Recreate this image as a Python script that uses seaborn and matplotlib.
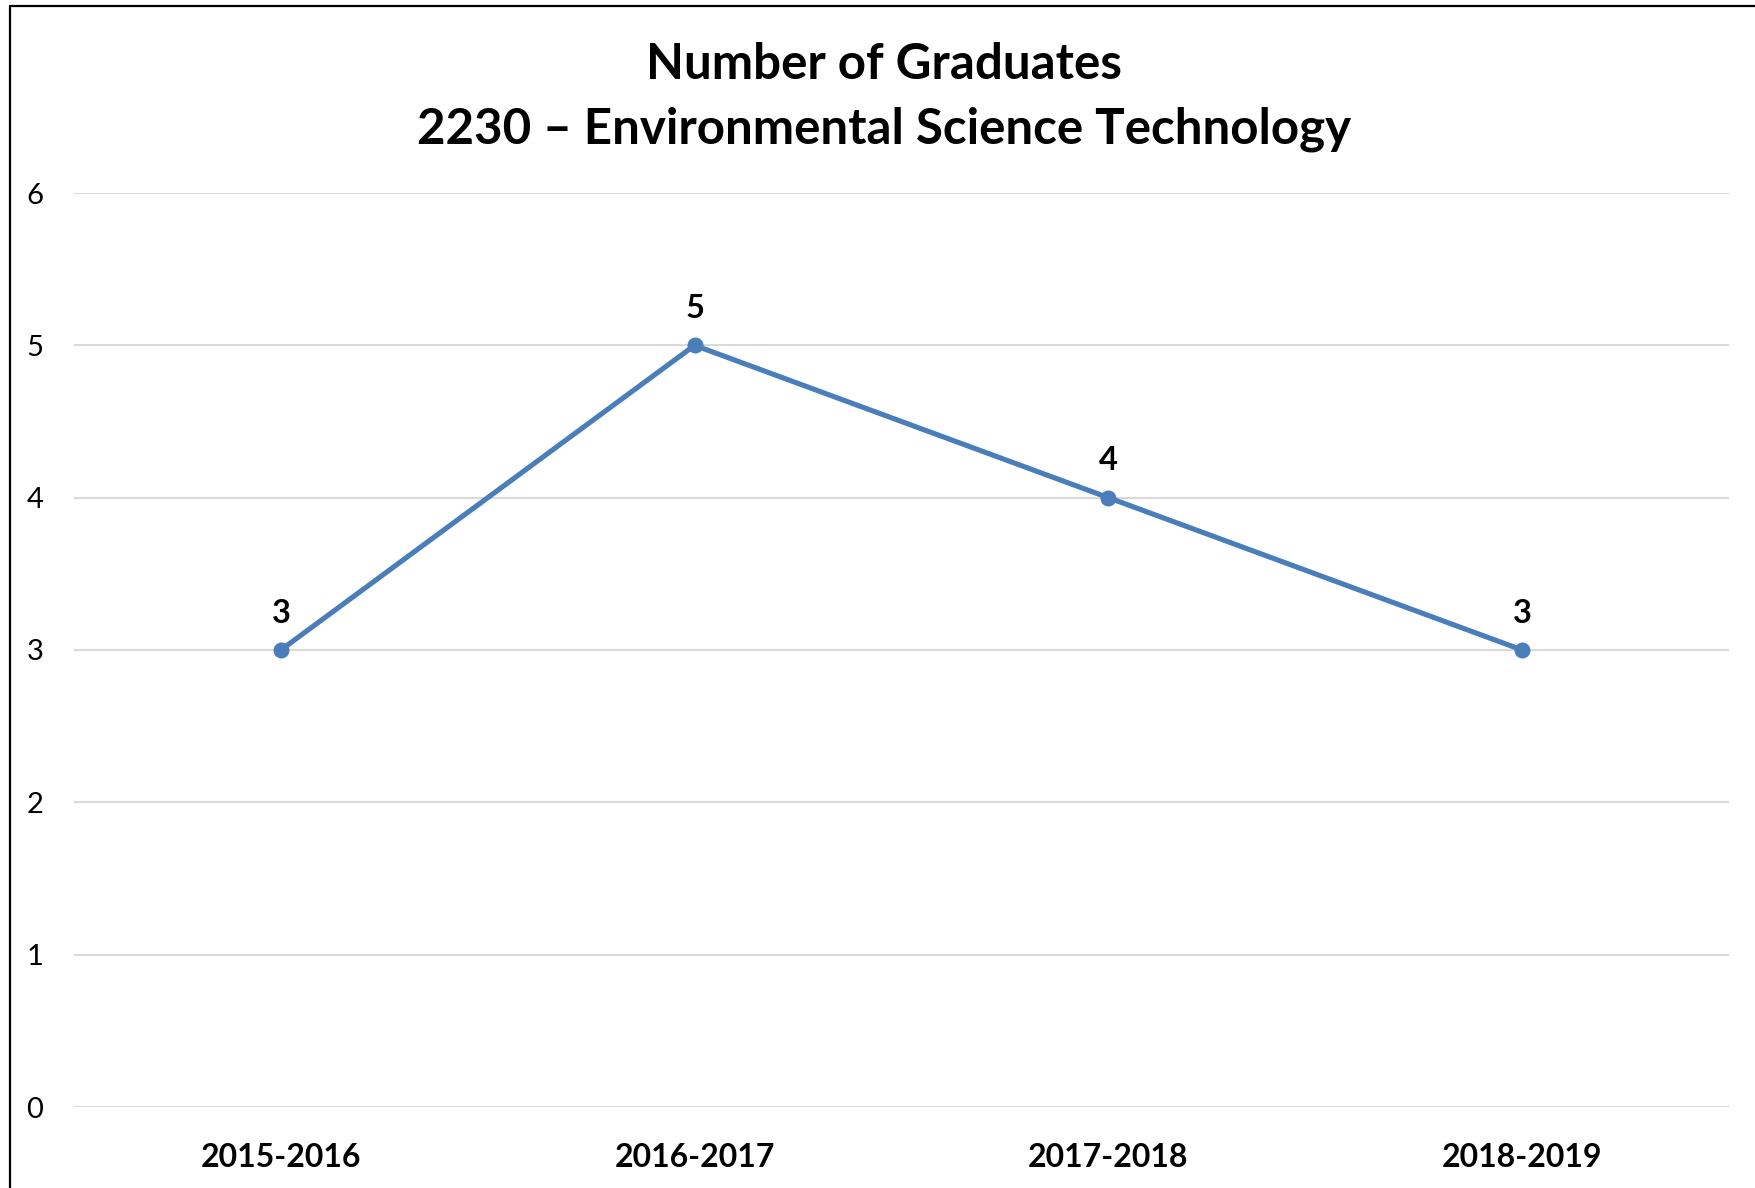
import matplotlib
matplotlib.use("Agg")
import matplotlib.pyplot as plt
import seaborn as sns
from matplotlib.lines import Line2D

years = ["2015-2016", "2016-2017", "2017-2018", "2018-2019"]
graduates = [3, 5, 4, 3]
title_lines = ["Number of Graduates", "2230 \u2013 Environmental Science Technology"]
y_ticks = [0, 1, 2, 3, 4, 5, 6]

sns.set_theme(style="white")
plt.rcParams["font.family"] = ["Lato", "DejaVu Sans"]

W, H, DPI = 1756, 1188, 100
fig = plt.figure(figsize=(W / DPI, H / DPI), dpi=DPI)
fig.patch.set_facecolor("white")
ax = fig.add_axes([74 / W, 1 - 1107 / H, 1655 / W, (1107 - 193) / H])

line_color = "#4A7EBB"
sns.lineplot(x=years, y=graduates, ax=ax, color=line_color, linewidth=3.7,
             marker="o", markersize=11.5, markeredgewidth=0, sort=False)

ax.set_xlim(-0.5, len(years) - 0.5)
ax.set_ylim(0, 6)
ax.set_yticks(y_ticks)
ax.set_yticklabels([str(t) for t in y_ticks])
ax.set_xlabel("")
ax.set_ylabel("")

ax.grid(axis="y", color="#D9D9D9", linewidth=1.5)
ax.grid(axis="x", visible=False)
ax.set_axisbelow(True)
for s in ax.spines.values():
    s.set_visible(False)

ax.tick_params(axis="y", length=0, pad=22, labelsize=21, labelcolor="black")
ax.tick_params(axis="x", length=0, pad=26, labelsize=23, labelcolor="black")
for lab in ax.get_xticklabels():
    lab.set_fontweight("bold")

for i, v in enumerate(graduates):
    ax.annotate(str(v), xy=(i, v), xytext=(0, 26.5), textcoords="offset points",
                ha="center", va="center", fontsize=23.5, fontweight="bold", color="black")

fig.text(884 / W, 1 - 64.5 / H, title_lines[0], ha="center", va="center",
         fontsize=35.5, fontweight="bold", color="black")
fig.text(884 / W, 1 - 129.5 / H, title_lines[1], ha="center", va="center",
         fontsize=35.5, fontweight="bold", color="black")

# chart border (left and top edges visible)
fig.add_artist(Line2D([10.5 / W, 10.5 / W], [0, 1 - 5.5 / H], transform=fig.transFigure,
                      color="black", linewidth=1.6))
fig.add_artist(Line2D([10.5 / W, 1], [1 - 5.5 / H, 1 - 5.5 / H], transform=fig.transFigure,
                      color="black", linewidth=1.6))

fig.savefig("out.png", dpi=DPI, facecolor="white")
